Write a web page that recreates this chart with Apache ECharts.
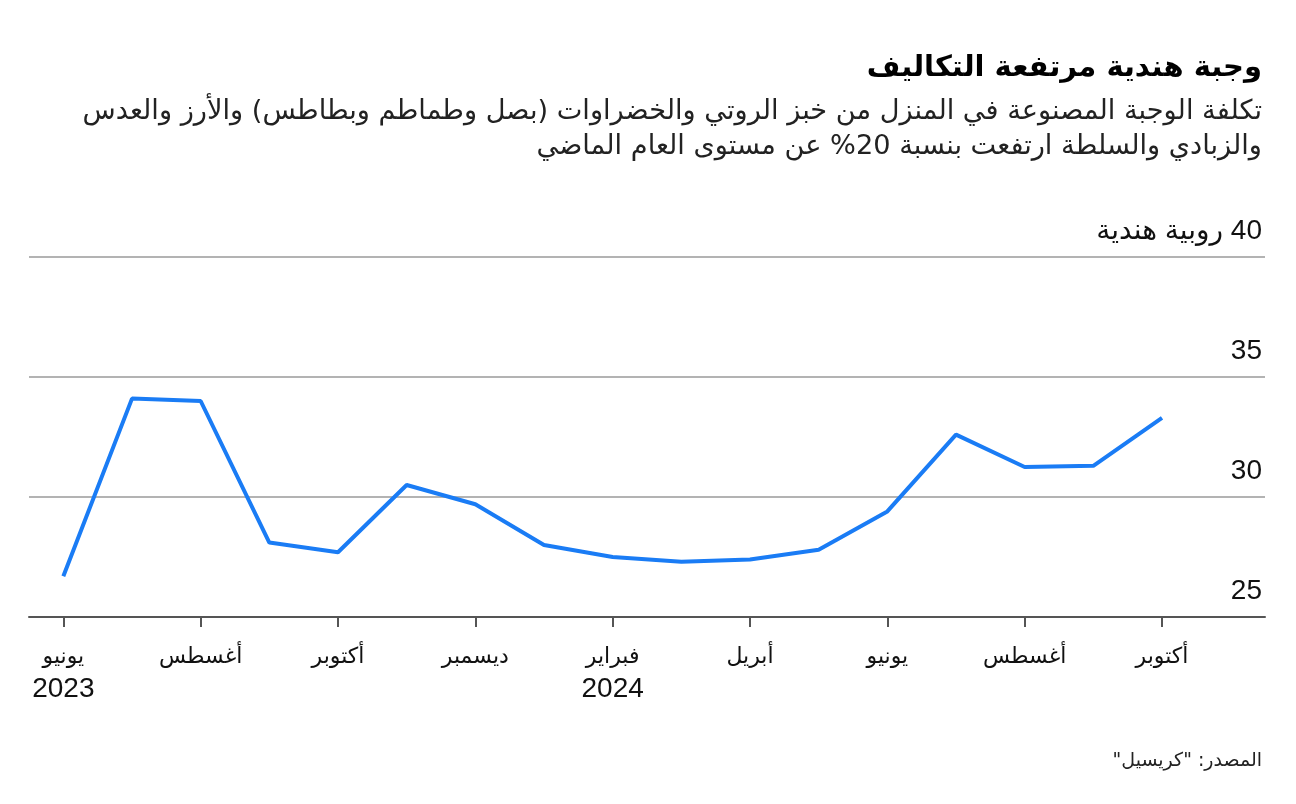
<!DOCTYPE html>
<html>
<head>
<meta charset="utf-8">
<script src="https://cdn.jsdelivr.net/npm/echarts@6/dist/echarts.min.js"></script>
<style>
  html, body { margin: 0; padding: 0; background: #fff; }
  #chart { width: 1296px; height: 804px; direction: rtl; }
</style>
</head>
<body>
<div id="chart"></div>
<script>
// months Jun 2023 .. Oct 2024, plus one empty slot to leave room on the right
const months = ['يونيو', 'يوليو', 'أغسطس', 'سبتمبر', 'أكتوبر', 'نوفمبر', 'ديسمبر', 'يناير', 'فبراير', 'مارس', 'أبريل', 'مايو', 'يونيو', 'يوليو', 'أغسطس', 'سبتمبر', 'أكتوبر', '']
const years = { 0: '2023', 8: '2024' }
const mealCost = [26.7, 34.1, 34.0, 28.1, 27.7, 30.5, 29.7, 28.0, 27.5, 27.3, 27.4, 27.8, 29.4, 32.6, 31.25, 31.3, 33.3]
const yTicks = [25, 30, 35, 40]

const title = 'وجبة هندية مرتفعة التكاليف'
const subtitle1 = 'تكلفة الوجبة المصنوعة في المنزل من خبز الروتي والخضراوات (بصل وطماطم وبطاطس) والأرز والعدس'
const subtitle2 = 'والزبادي والسلطة ارتفعت بنسبة 20% عن مستوى العام الماضي'
const source = 'المصدر: "كريسيل"'
const unit = 'روبية هندية'

const font = "'Liberation Sans', 'DejaVu Sans', sans-serif"

const chart = echarts.init(document.getElementById('chart'))
chart.setOption({
  animation: false,
  textStyle: { fontFamily: font },
  graphic: [
    {
      type: 'text', right: 34, top: 54,
      style: { text: title, font: "bold 29px 'DejaVu Sans', sans-serif", fill: '#000' }
    },
    {
      type: 'text', right: 34, top: 98,
      style: { text: subtitle1, font: "27.2px 'DejaVu Sans', sans-serif", fill: '#222' }
    },
    {
      type: 'text', right: 34, top: 133,
      style: { text: subtitle2, font: "27.2px 'DejaVu Sans', sans-serif", fill: '#222' }
    },
    {
      type: 'text', right: 34, top: 752,
      style: { text: source, font: "19px 'DejaVu Sans', sans-serif", fill: '#222' }
    }
  ],
  grid: { left: 29, right: 31, top: 257, bottom: 187 },
  xAxis: {
    type: 'category',
    data: months,
    boundaryGap: true,
    z: 5,
    axisLine: { lineStyle: { color: '#555', width: 2 } },
    axisTick: { show: true, alignWithLabel: true, interval: 1, length: 10, lineStyle: { color: '#555', width: 2 } },
    axisLabel: {
      interval: 1,
      margin: 23,
      fontSize: 22,
      lineHeight: 33,
      color: '#111',
      fontFamily: font,
      formatter: (v, i) => years[i] ? v + '\n{yr|' + years[i] + '}' : v,
      rich: {
        yr: { fontSize: 28, lineHeight: 33, color: '#111', fontFamily: font }
      }
    },
    splitLine: { show: false }
  },
  yAxis: {
    type: 'value',
    position: 'right',
    min: yTicks[0],
    max: yTicks[yTicks.length - 1],
    interval: 5,
    axisLine: { show: false },
    axisTick: { show: false },
    axisLabel: {
      inside: true,
      margin: 0,
      verticalAlign: 'bottom',
      padding: [0, 3, 12, 0],
      fontSize: 28,
      color: '#111',
      fontFamily: font,
      formatter: v => v === 40 ? v + ' ' + unit : String(v)
    },
    splitLine: { lineStyle: { color: '#b3b3b3', width: 2 } }
  },
  series: [{
    type: 'line',
    data: mealCost,
    showSymbol: false,
    symbol: 'none',
    lineStyle: { color: '#1a7cf5', width: 4 }
  }]
})
</script>
</body>
</html>
